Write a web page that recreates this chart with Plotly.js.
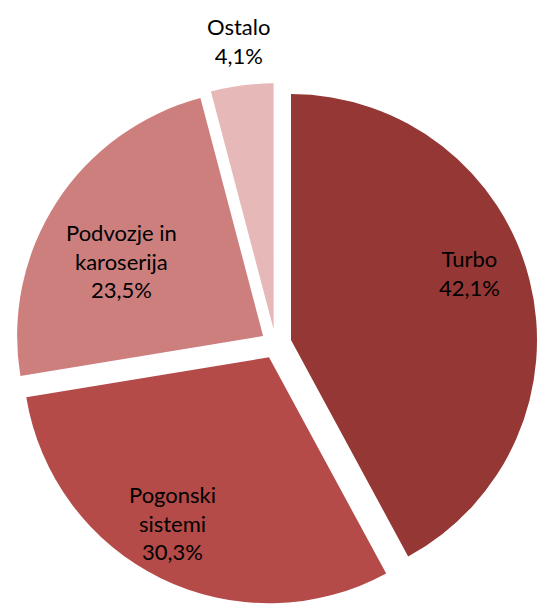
<!DOCTYPE html>
<html><head><meta charset="utf-8">
<script src="https://cdn.plot.ly/plotly-3.0.1.min.js"></script>
<style>html,body{margin:0;padding:0;background:#fff}</style>
</head><body><div id="chart" style="width:539px;height:608px"></div>
<script>
const labels = ["Turbo", "Pogonski<br>sistemi", "Podvozje in<br>karoserija", "Ostalo"];
const values = [42.1, 30.3, 23.5, 4.1];
const valueText = ["42,1%", "30,3%", "23,5%", "4,1%"];
const colors = ["#953735", "#B44B48", "#CD7F7E", "#E6B9B8"];

// label placement (style): radius as fraction of pie radius, angular shift in degrees
const labelRadius = [0.84, 0.84, 0.71, 1.24];
const labelShift = [-5.8, 3.7, -4.7, 0.4];

const W = 539, H = 608;
const margin = {l: 12, r: 0, t: 82, b: 2};
const fontFamily = "Lato, 'Open Sans', sans-serif";
const gd = document.getElementById("chart");

Plotly.newPlot(gd, [{
  type: "pie",
  labels: labels,
  values: values,
  textinfo: "none",
  textposition: "none",
  sort: false,
  direction: "clockwise",
  rotation: 0,
  pull: [0.065, 0.06, 0.06, 0.06],
  marker: {colors: colors, line: {width: 0}},
  hoverinfo: "none",
  showlegend: false
}], {
  width: W, height: H,
  margin: margin,
  paper_bgcolor: "#fff",
  showlegend: false
}, {displayModeBar: false, staticPlot: true}).then(function () {
  const cd0 = gd.calcdata[0][0];
  const cx = cd0.cx, cy = cd0.cy, r = cd0.r;
  const total = values.reduce((a, b) => a + b, 0);
  const plotW = W - margin.l - margin.r, plotH = H - margin.t - margin.b;
  let cum = 0;
  const anns = values.map(function (v, i) {
    const mid = (cum + v / 2) / total * 360 + labelShift[i];
    cum += v;
    const a = mid * Math.PI / 180;
    const px = cx + labelRadius[i] * r * Math.sin(a);
    const py = cy - labelRadius[i] * r * Math.cos(a);
    return {
      xref: "paper", yref: "paper",
      x: (px - margin.l) / plotW,
      y: 1 - (py - margin.t) / plotH,
      xanchor: "center", yanchor: "middle",
      showarrow: false,
      text: labels[i] + "<br>" + valueText[i],
      font: {family: fontFamily, size: 22, color: "#000"}
    };
  });
  return Plotly.relayout(gd, {annotations: anns});
});
</script></body></html>
